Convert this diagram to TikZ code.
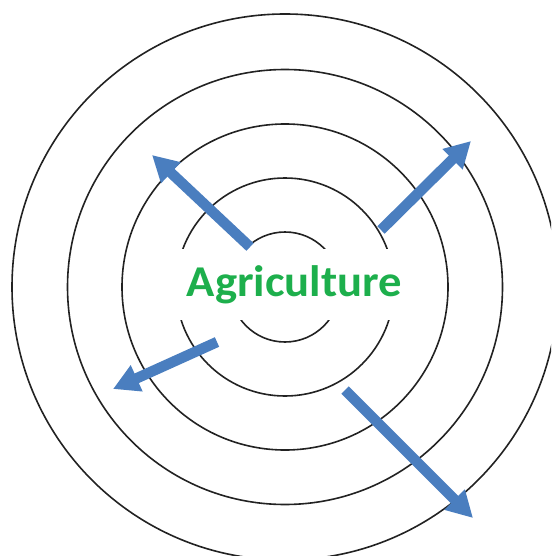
\documentclass[tikz,border=0pt]{standalone}
\usepackage{fontspec}
\setmainfont{Carlito}
\usetikzlibrary{arrows.meta}
\definecolor{ringcol}{HTML}{222222}
\definecolor{arrowblue}{HTML}{4A7EBF}
\definecolor{agrigreen}{HTML}{1DAF4C}
\tikzset{
  ring/.style={draw=ringcol, line width=1.6pt},
  bigarrow/.style={draw=arrowblue, line width=10.5pt, line cap=butt,
    -{Triangle[width=27pt,length=26pt]}},
  label/.style={fill=white, inner sep=0pt, minimum width=250pt, minimum height=71pt,
    text=agrigreen, font=\fontsize{44}{48}\selectfont\bfseries}
}
\begin{document}
\begin{tikzpicture}[x=1pt,y=-1pt]
  \useasboundingbox (0,0) rectangle (551,556);
  \clip (0,0) rectangle (551,556);
  \coordinate (c) at (285,287);
  \foreach \r in {55,109,163,217.5,273}{
    \draw[ring] (c) circle[radius=\r pt];
  }
  \node[label] (agri) at (294.5,284.5) {\scalebox{1.06}[1]{Agriculture}};
  \coordinate (t1) at (250,247);  \coordinate (h1) at (152,155);
  \coordinate (t2) at (381,230);  \coordinate (h2) at (471,141);
  \coordinate (t3) at (217,342);  \coordinate (h3) at (113,389);
  \coordinate (t4) at (345,390);  \coordinate (h4) at (473,518);
  \draw[bigarrow] (t1) -- (h1);
  \draw[bigarrow] (t2) -- (h2);
  \draw[bigarrow] (t3) -- (h3);
  \draw[bigarrow] (t4) -- (h4);
\end{tikzpicture}
\end{document}
